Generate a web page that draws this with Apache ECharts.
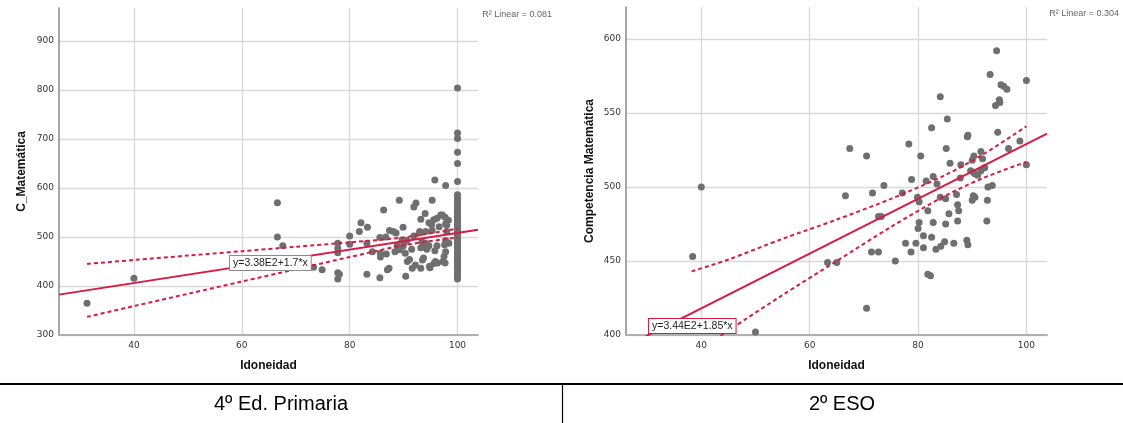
<!DOCTYPE html>
<html>
<head>
<meta charset="utf-8">
<script src="https://cdn.jsdelivr.net/npm/echarts@6/dist/echarts.min.js"></script>
<style>
  html, body { margin: 0; padding: 0; background: #ffffff; }
  #chart { width: 1123px; height: 423px; }
</style>
</head>
<body>
<div id="chart"></div>
<script>
// ---- 4º Ed. Primaria: Idoneidad vs C_Matemática ----
const primariaPoints = [
  [31.3,365],[40,416],[66.6,570],[66.6,500],[67.6,482],[73.3,438],[74.9,433],
  [77.8,487],[77.8,477],[77.8,468],[77.8,427],[78.1,424],[77.8,414],
  [80,502],[80,485],[81.8,511],[82.1,529],[83.3,520],[83.2,487],[84.2,470],[83.2,424],
  [85.6,417],[86.3,555],[87.0,433],[87.3,436],[85.7,467],[85.7,459],[86.8,465],[85.6,499],[86.7,500],
  [87.4,513],[88.1,511],[88.6,508],[88.4,470],[88.8,482],[89.3,474],[89.2,575],[89.9,520],[89.7,494],[90.1,487],
  [89.9,481],[90.6,493],[91.9,502],
  [90.3,467],[90.7,450],[91.1,454],[90.4,420],[91.5,475],[91.6,436],[92.2,443],[93.2,436],[93.5,453],[93.7,457],
  [92.3,569],[91.9,561],[93.2,536],[94.0,548],[95.3,575],[94.7,529],[95.2,525],[95.6,535],
  [96.2,538],[96.9,545],[97.2,545],[97.7,540],[96.6,521],[97.8,527],[92.9,508],[93.0,511],[94.1,511],[95.3,513],
  [93.2,478],[94.1,482],[94.7,482],[95.8,472],[96.2,482],[93.4,490],[94.1,487],[94.3,475],
  [97.8,493],[97.6,484],[97.5,460],[97.3,450],[95.9,450],[95.6,446],[94.9,437],[94.8,440],[96.3,447],[97.7,447],[97.8,470],
  [98.4,487],[98.3,534],[98.0,524],[98.0,511],[95.8,616],[97.8,605]
];
// pupils with Idoneidad = 100
const primariaFullScores = [804,712,701,673,650,613,586,580,574,569,564,558,553,547,542,538,533,528,524,519,
  515,510,506,502,497,493,488,485,480,476,471,466,462,457,453,448,443,439,434,429,424,419,414];
const primariaFit = [338, 1.7];           // intercept, slope
const primariaUpper = [[31.3,445],[40,453],[50,462],[60,471],[70,480],[80,489],[90,499],[100,517]];
const primariaLower = [[31.3,337],[40,359],[50,384],[60,409],[70,434],[80,459],[90,483],[100,499]];
const primariaXTicks = [40,60,80,100];
const primariaYTicks = [300,400,500,600,700,800,900];

// ---- 2º ESO: Idoneidad vs Competencia Matemática ----
const esoPoints = [
  [38.4,453],[40.0,500],[50.0,402],[63.3,449],[65.0,449],[66.6,494],[67.4,526],[70.5,418],[70.5,521],
  [71.4,456],[71.6,496],[72.7,456],[72.7,480],[73.2,480],[73.7,501],[75.8,450],[77.1,496],[77.7,462],
  [78.3,529],[78.7,456],[78.8,505],[79.6,462],[79.9,493],[80.0,472],[80.2,476],[80.2,490],[80.5,521],
  [81.0,467],[81.0,459],[81.5,504],[81.8,484],[81.8,441],[82.3,440],[82.5,466],[82.5,540],[82.8,507],
  [82.8,476],[83.3,458],[83.5,502],[84.1,561],[84.1,493],[84.2,460],[84.9,463],[85.1,475],[85.1,492],
  [85.2,526],[85.4,546],[85.7,482],[85.9,516],[86.6,462],[87.1,495],[87.3,488],[87.5,484],[87.3,477],
  [87.8,506],[87.9,515],[89.0,464],[89.2,461],[89.1,534],[89.2,535],[89.7,511],[90.0,491],[90.2,494],
  [90.2,510],[90.5,509],[90.3,521],[90.0,518],[91.0,508],[91.6,524],[91.6,511],[91.9,519],[92.3,513],
  [92.7,477],[92.8,491],[92.9,500],[93.3,576],[93.7,501],[94.3,555],[94.5,592],[94.7,537],[95.0,559],
  [95.1,557],[95.3,569],[95.8,568],[96.4,566],[96.7,526],[98.8,531],[100.0,572],[100.0,515],[90.5,493]
];
const esoFit = [344, 1.85];
const esoUpper = [[38.2,443],[45,451],[55,465],[65,478],[75,492],[85,508],[92,522],[100,541]];
const esoLower = [[38.2,386],[45,403],[55,427],[65,450],[75,473],[85,494],[92,506],[100,517]];
const esoXTicks = [40,60,80,100];
const esoYTicks = [400,450,500,550,600];

const panelTitles = ['4º Ed. Primaria', '2º ESO'];
const equations = ['y=3.38E2+1.7*x', 'y=3.44E2+1.85*x'];
const rSquared = ['R² Linear = 0.081', 'R² Linear = 0.304'];

const FIT_RED = '#d81a44';
const DOT = '#6f6f6f';
const GRID = '#d9d9d9';

const xRange = [26.1, 103.8];
const allPrimaria = primariaPoints.concat(primariaFullScores.map(v => [100, v]));

function fitLine(fit) {
  return xRange.map(x => [x, fit[0] + fit[1] * x]);
}

function xAxisFor(gridIndex, ticks) {
  return {
    type: 'value', gridIndex, min: xRange[0], max: xRange[1],
    name: 'Idoneidad', nameLocation: 'middle', nameGap: 25,
    nameTextStyle: { fontFamily: 'Liberation Sans', fontWeight: 'bold', fontSize: 12, color: '#111' },
    axisLine: { show: true, lineStyle: { color: '#b0b0b0', width: 2 } },
    axisTick: { show: false, customValues: ticks },
    axisLabel: { customValues: ticks, fontFamily: 'DejaVu Sans', fontSize: 9, color: '#333', margin: 6 },
    splitLine: { show: true, lineStyle: { color: GRID, width: 1.3 } }
  };
}

function yAxisFor(gridIndex, min, max, ticks, name, gap) {
  return {
    type: 'value', gridIndex, min, max,
    name, nameLocation: 'middle', nameGap: gap,
    nameTextStyle: { fontFamily: 'Liberation Sans', fontWeight: 'bold', fontSize: 12, color: '#111' },
    axisLine: { show: true, lineStyle: { color: '#8a8a8a', width: 1.5 } },
    axisTick: { show: false, customValues: ticks },
    axisLabel: { customValues: ticks, fontFamily: 'DejaVu Sans', fontSize: 9, color: '#333', margin: 5 },
    splitLine: { show: true, lineStyle: { color: GRID, width: 1.3 } }
  };
}

function panelSeries(idx, points, fit, upper, lower) {
  return [
    { type: 'scatter', xAxisIndex: idx, yAxisIndex: idx, data: points, symbolSize: 7,
      itemStyle: { color: DOT, opacity: 1 }, z: 2, silent: true },
    { type: 'line', xAxisIndex: idx, yAxisIndex: idx, data: fitLine(fit), showSymbol: false,
      lineStyle: { color: FIT_RED, width: 2 }, z: 4, clip: true, silent: true },
    { type: 'line', xAxisIndex: idx, yAxisIndex: idx, data: upper, showSymbol: false, smooth: 0.3,
      lineStyle: { color: FIT_RED, width: 2, type: [4, 3] }, z: 3, clip: true, silent: true },
    { type: 'line', xAxisIndex: idx, yAxisIndex: idx, data: lower, showSymbol: false, smooth: 0.3,
      lineStyle: { color: FIT_RED, width: 2, type: [4, 3] }, z: 3, clip: true, silent: true }
  ];
}

const chart = echarts.init(document.getElementById('chart'), null, { renderer: 'canvas' });

const labelFont = '10.5px "Liberation Sans"';
const captionFont = '20px "Liberation Sans"';

chart.setOption({
  animation: false,
  backgroundColor: '#ffffff',
  grid: [
    { left: 59, top: 8, width: 419, height: 327 },
    { left: 626, top: 7, width: 421, height: 328 }
  ],
  xAxis: [xAxisFor(0, primariaXTicks), xAxisFor(1, esoXTicks)],
  yAxis: [
    yAxisFor(0, 300, 967, primariaYTicks, 'C_Matemática', 31),
    yAxisFor(1, 400, 621.6, esoYTicks, 'Competencia Matemática', 30)
  ],
  series: [].concat(
    panelSeries(0, allPrimaria, primariaFit, primariaUpper, primariaLower),
    panelSeries(1, esoPoints, esoFit, esoUpper, esoLower)
  ),
  graphic: [
    { type: 'text', x: 552, y: 15, silent: true,
      style: { text: rSquared[0], font: '9px "Liberation Sans"', fill: '#666', align: 'right', verticalAlign: 'middle' } },
    { type: 'text', x: 1119, y: 14, silent: true,
      style: { text: rSquared[1], font: '9px "Liberation Sans"', fill: '#666', align: 'right', verticalAlign: 'middle' } },
    { type: 'text', left: 229, top: 255, z: 10, silent: true,
      style: { text: equations[0], font: labelFont, fill: '#222',
        backgroundColor: '#ffffff', borderColor: '#8c8c8c', borderWidth: 1, padding: [2, 3, 1, 3] } },
    { type: 'text', left: 648, top: 318, z: 10, silent: true,
      style: { text: equations[1], font: labelFont, fill: '#222',
        backgroundColor: '#ffffff', borderColor: FIT_RED, borderWidth: 1, padding: [2, 3, 1, 3] } },
    // table rule and divider under the two panels
    { type: 'line', silent: true, shape: { x1: 0, y1: 384, x2: 1123, y2: 384 },
      style: { stroke: '#000', lineWidth: 2 } },
    { type: 'line', silent: true, shape: { x1: 562.5, y1: 384, x2: 562.5, y2: 423 },
      style: { stroke: '#000', lineWidth: 1.2 } },
    { type: 'text', x: 281, y: 404, silent: true,
      style: { text: panelTitles[0], font: captionFont, fill: '#000', align: 'center', verticalAlign: 'middle' } },
    { type: 'text', x: 842, y: 404, silent: true,
      style: { text: panelTitles[1], font: captionFont, fill: '#000', align: 'center', verticalAlign: 'middle' } }
  ]
});
</script>
</body>
</html>
